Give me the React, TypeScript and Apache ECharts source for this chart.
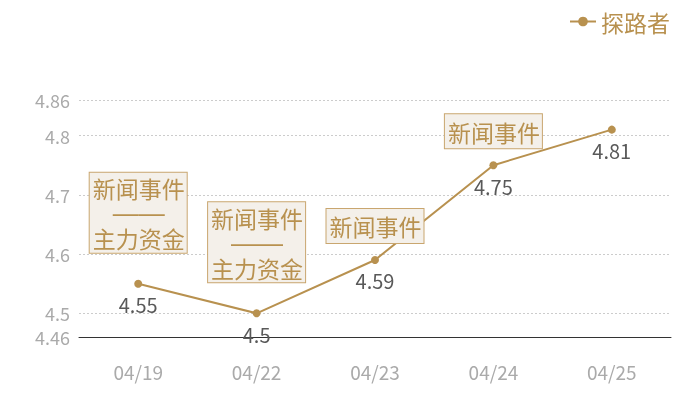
import React, { useEffect, useRef } from "react";
import * as echarts from "echarts";

const categories = ["04/19", "04/22", "04/23", "04/24", "04/25"];
const values = [4.55, 4.5, 4.59, 4.75, 4.81];
const annotations = [
  "新闻事件\n——\n主力资金",
  "新闻事件\n——\n主力资金",
  "新闻事件",
  "新闻事件",
  "",
];
const seriesName = "探路者";
const yMin = 4.46;
const yMax = 4.86;

const GOLD = "#b8914f";
const FONT = "'Noto Sans CJK SC', 'Noto Sans', sans-serif";

export default function App() {
  const ref = useRef<HTMLDivElement>(null);
  useEffect(() => {
    if (!ref.current) return;
    const chart = echarts.init(ref.current, undefined, { renderer: "svg" });
    const markData = annotations
      .map((t, i) => ({ t, i }))
      .filter((a) => a.t)
      .map((a) => {
        const multi = a.t.indexOf("\n") >= 0;
        return {
          coord: [categories[a.i], values[a.i]],
          value: a.t,
          label: {
            distance: multi ? 31 : 17,
            padding: multi ? [3, 2, 2, 3] : [5, 2, 4, 3],
          },
        };
      });
    chart.setOption({
      animation: false,
      textStyle: { fontFamily: FONT },
      legend: {
        right: 25,
        top: 5,
        itemWidth: 26,
        itemHeight: 12,
        itemGap: 6,
        textStyle: { color: GOLD, fontSize: 23, fontFamily: FONT },
        data: [seriesName],
      },
      grid: { left: 79, right: 29, top: 100, bottom: 63 },
      xAxis: {
        type: "category",
        data: categories,
        boundaryGap: true,
        axisLine: { lineStyle: { color: "#333", width: 1 } },
        axisTick: { show: false },
        axisLabel: { color: "#aaa", fontSize: 19, margin: 25, fontFamily: FONT },
      },
      yAxis: {
        type: "value",
        min: yMin,
        max: yMax,
        axisLine: { show: false },
        axisTick: { show: false },
        axisLabel: { color: "#aaa", fontSize: 18, margin: 9, fontFamily: FONT },
        splitLine: { lineStyle: { color: "#ccc", type: [2, 2] } },
      },
      series: [
        {
          name: seriesName,
          type: "line",
          data: values,
          symbol: "circle",
          symbolSize: 8,
          itemStyle: { color: GOLD },
          lineStyle: { color: GOLD, width: 2 },
          label: {
            show: true,
            position: "bottom",
            distance: 7,
            color: "#595959",
            fontSize: 20,
            fontFamily: FONT,
          },
          markPoint: {
            symbol: "circle",
            symbolSize: 0,
            label: {
              show: true,
              position: "top",
              formatter: (p: any) =>
                String(p.value)
                  .split("\n")
                  .map((line: string) => (line.indexOf("—") === 0 ? "{d|" + line + "}" : line))
                  .join("\n"),
              color: GOLD,
              fontSize: 23,
              lineHeight: 25,
              fontFamily: FONT,
              backgroundColor: "#f4f0ea",
              borderColor: "#c9a66f",
              borderWidth: 1,
              rich: {
                d: {
                  color: GOLD,
                  fontSize: 26,
                  lineHeight: 25,
                  fontFamily: "'Liberation Sans', sans-serif",
                },
              },
            },
            data: markData,
          },
        },
      ],
    });
    return () => chart.dispose();
  }, []);
  return (
    <div
      ref={ref}
      style={{ position: "fixed", left: 0, top: 0, width: 700, height: 400 }}
    />
  );
}
